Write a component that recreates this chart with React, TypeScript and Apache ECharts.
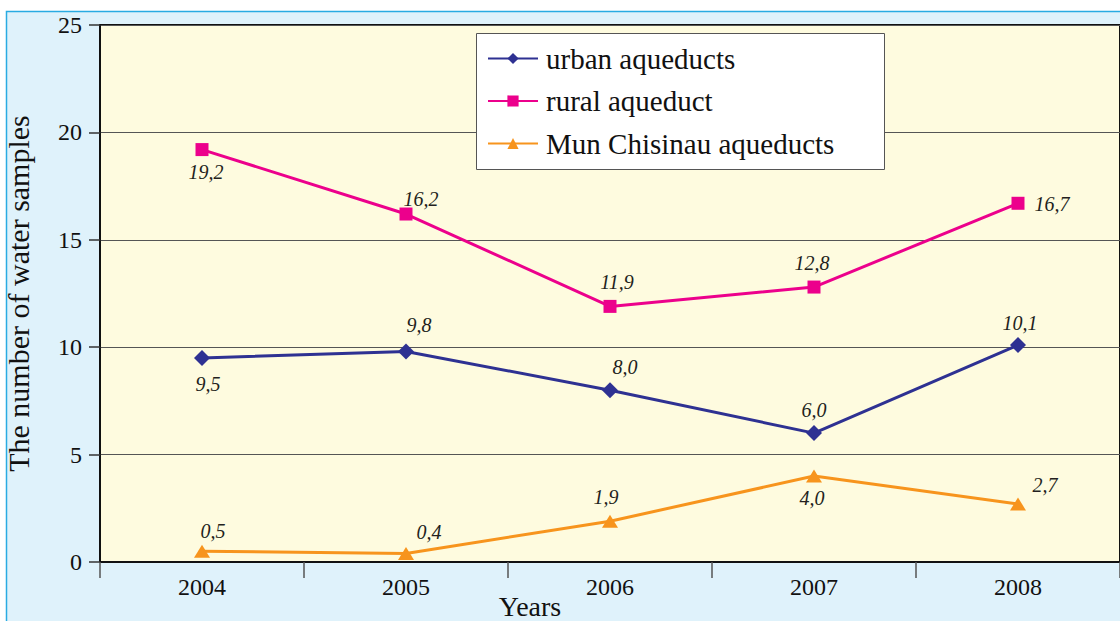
import React, { useEffect, useRef } from "react";
import * as echarts from "echarts";

const years = ["2004", "2005", "2006", "2007", "2008"];
const urban = [9.5, 9.8, 8.0, 6.0, 10.1];
const rural = [19.2, 16.2, 11.9, 12.8, 16.7];
const chisinau = [0.5, 0.4, 1.9, 4.0, 2.7];
const yTicks = [0, 5, 10, 15, 20, 25];

const urbanOffsets = [[6, 26], [13, -26], [15, -23], [0, -23], [2, -22]];
const ruralOffsets = [[4, 22], [15, -15], [7, -24], [-2, -24], [34, 1]];
const chisinauOffsets = [[11, -20], [23, -21], [-4, -24], [-2, 22], [27, -19]];

const FONT = "Liberation Serif";

function withLabels(values: number[], offsets: number[][]) {
  return values.map((v, i) => ({
    value: v,
    label: {
      show: true,
      position: "inside",
      offset: offsets[i],
      formatter: () => v.toFixed(1).replace(".", ","),
      fontFamily: FONT,
      fontStyle: "italic",
      fontSize: 20,
      color: "#231f20",
    },
  }));
}

export default function App() {
  const ref = useRef<HTMLDivElement>(null);
  useEffect(() => {
    if (!ref.current) return;
    const chart = echarts.init(ref.current, undefined, { renderer: "svg" });
    chart.setOption({
      animation: false,
      backgroundColor: "#ffffff",
      textStyle: { fontFamily: FONT },
      graphic: [
        {
          type: "rect",
          z: -10,
          silent: true,
          shape: { x: 6.5, y: 11.5, width: 1300, height: 800 },
          style: { fill: "#dff2fb", stroke: "#29abe2", lineWidth: 1.5 },
        },
        {
          type: "rect",
          z: 3,
          silent: true,
          shape: { x: 476.5, y: 33.5, width: 408, height: 136 },
          style: { fill: "#ffffff", stroke: "#555555", lineWidth: 1 },
        },
        {
          type: "text",
          z: 5,
          x: 530,
          y: 606,
          style: {
            text: "Years",
            fontFamily: FONT,
            fontSize: 28,
            fill: "#111",
            textAlign: "center",
            textVerticalAlign: "middle",
          },
        },
      ],
      grid: {
        left: 100,
        right: 0,
        top: 25,
        bottom: 59,
        outerBoundsMode: "none",
        containLabel: false,
        show: true,
        backgroundColor: "#fefbdf",
        borderColor: "#111",
        borderWidth: 2,
      },
      legend: {
        orient: "vertical",
        left: 482,
        top: 39,
        itemWidth: 50,
        itemHeight: 14,
        itemGap: 13.5,
        textStyle: {
          fontFamily: FONT,
          fontSize: 29,
          lineHeight: 28,
          color: "#111",
          padding: [0, 0, 0, 3],
        },
        data: ["urban aqueducts", "rural aqueduct", "Mun Chisinau aqueducts"],
      },
      xAxis: {
        type: "category",
        data: years,
        boundaryGap: true,
        axisLine: { lineStyle: { color: "#111", width: 2 } },
        axisTick: { show: true, length: 16, lineStyle: { color: "#555", width: 1.5 } },
        axisLabel: { fontFamily: FONT, fontSize: 24, color: "#111", margin: 13 },
      },
      yAxis: {
        type: "value",
        min: 0,
        max: 25,
        interval: 5,
        name: "The number of water samples",
        nameLocation: "middle",
        nameGap: 67,
        nameTextStyle: { fontFamily: FONT, fontSize: 30, color: "#111" },
        axisLine: { show: true, lineStyle: { color: "#111", width: 1.5 } },
        axisTick: { show: true, length: 11, lineStyle: { color: "#333", width: 1.5 } },
        axisLabel: {
          fontFamily: FONT,
          fontSize: 24,
          color: "#111",
          margin: 18,
          formatter: (v: number) => (yTicks.includes(v) ? String(v) : ""),
        },
        splitLine: { lineStyle: { color: "#555", width: 1.2 } },
      },
      series: [
        {
          name: "urban aqueducts",
          type: "line",
          data: withLabels(urban, urbanOffsets),
          symbol: "diamond",
          symbolSize: 16,
          lineStyle: { color: "#2e3192", width: 3 },
          itemStyle: { color: "#2e3192" },
        },
        {
          name: "rural aqueduct",
          type: "line",
          data: withLabels(rural, ruralOffsets),
          symbol: "rect",
          symbolSize: 13,
          lineStyle: { color: "#ec008c", width: 3 },
          itemStyle: { color: "#ec008c" },
        },
        {
          name: "Mun Chisinau aqueducts",
          type: "line",
          data: withLabels(chisinau, chisinauOffsets),
          symbol: "triangle",
          symbolSize: [16, 13],
          lineStyle: { color: "#f7941d", width: 3 },
          itemStyle: { color: "#f7941d" },
        },
      ],
    });
    return () => chart.dispose();
  }, []);
  return (
    <div
      ref={ref}
      style={{ position: "absolute", left: 0, top: 0, width: 1120, height: 621 }}
    />
  );
}
